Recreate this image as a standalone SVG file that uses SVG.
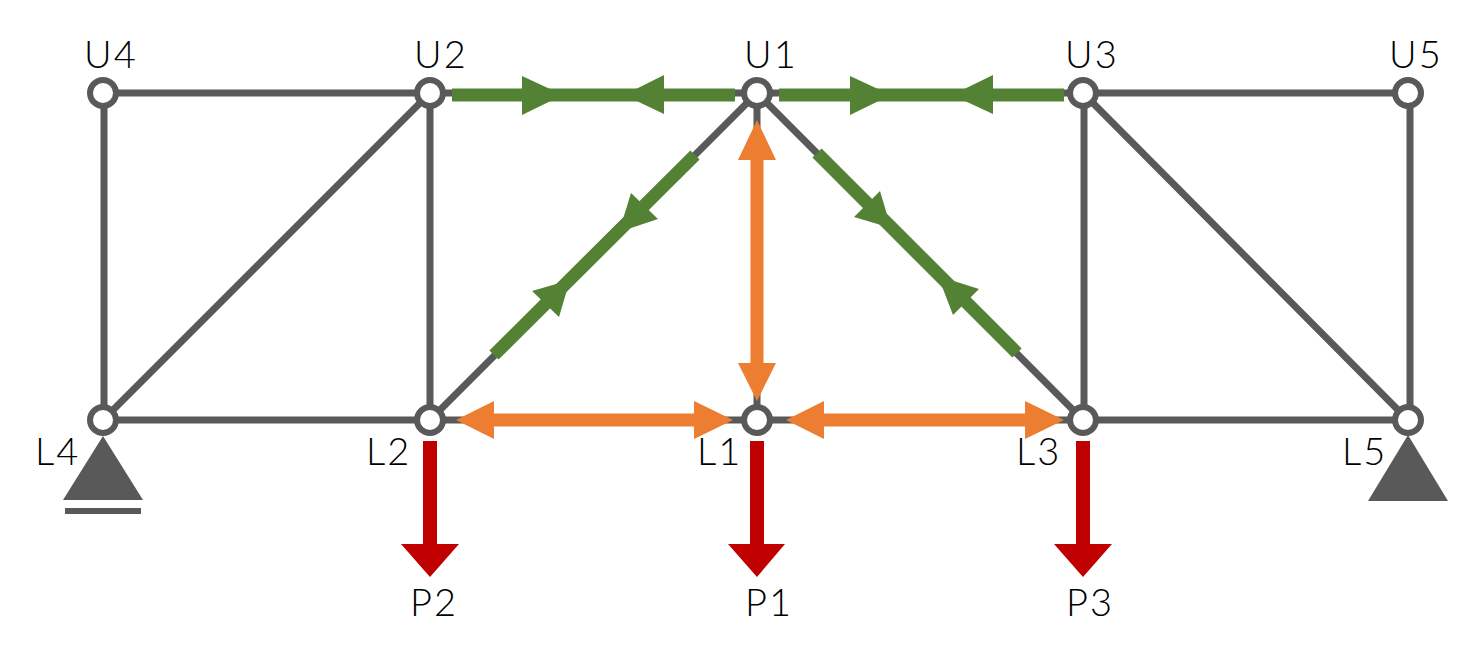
<svg xmlns="http://www.w3.org/2000/svg" width="1472" height="655" viewBox="0 0 1472 655">
<style>
.m{stroke:#595959;stroke-width:7;fill:none}
.g{stroke:#548235;stroke-width:13;fill:none}
.gh{fill:#548235}
.o{stroke:#ed7d31;stroke-width:13;fill:none}
.oh{fill:#ed7d31}
.r{stroke:#c00000;stroke-width:14;fill:none}
.rh{fill:#c00000}
.n{fill:#fff;stroke:#595959;stroke-width:6}
.s{fill:#595959}
text{font-family:"Lato","Liberation Sans",sans-serif;font-size:38px;font-weight:300;fill:#000;letter-spacing:2px}
</style>
<rect width="1472" height="655" fill="#fff"/>
<g id="connectors">
<g id="members">
<path class="m" d="M103 93H1408M103 420H1408M104 93V420M430 93V420M1084 93V420M1410 93V420M757 93V420M103 420L430 93M430 420L757 93M757 93L1083 420M1083 93L1408 420"/>
</g>
<g id="green-forces">
<path class="g" d="M452 95H735M779 95H1064M695 155L494 355M817 153L1017 353"/>
<path class="gh" d="M522 76L563 95L522 115ZM664 75L624 95L664 114ZM850 76L891 95L850 115ZM993 75L952 95L993 114Z"/>
<path class="gh" d="M631 193L658 219L619 232ZM532 291L559 317L570 280ZM880 191L854 217L891 228ZM979 289L953 315L938 276Z"/>
</g>
<g id="orange-forces">
<path class="o" d="M757 155V368M490 420H700M820 420H1030"/>
<path class="oh" d="M757 120L776 160H738ZM757 401L776 363H738ZM456 420L494 401V439ZM733 420L694 401V439ZM786 420L824 401V439ZM1064 420L1025 401V439Z"/>
</g>
<g id="loads">
<path class="r" d="M430 441V548M757 441V548M1083 441V548"/>
<path class="rh" d="M401 544H459L430 577ZM728 544H785L757 577ZM1054 544H1112L1083 577Z"/>
</g>
</g>
<g id="support-L4"><path class="s" d="M103 436L143 500H63Z"/><rect class="s" x="65" y="508" width="76" height="6"/></g>
<g id="support-L5"><path class="s" d="M1408 435L1448 501H1368Z"/></g>
<g id="U4"><circle class="n" cx="103" cy="93" r="13"/><text x="84" y="68">U4</text></g>
<g id="U2"><circle class="n" cx="430" cy="93" r="13"/><text x="414" y="68">U2</text></g>
<g id="U1"><circle class="n" cx="757" cy="93" r="13"/><text x="744" y="68">U1</text></g>
<g id="U3"><circle class="n" cx="1083" cy="93" r="13"/><text x="1065" y="68">U3</text></g>
<g id="U5"><circle class="n" cx="1408" cy="93" r="13"/><text x="1389" y="68">U5</text></g>
<g id="L4"><circle class="n" cx="103" cy="420" r="13"/><text x="35" y="465">L4</text></g>
<g id="L2"><circle class="n" cx="430" cy="420" r="13"/><text x="366" y="465">L2</text></g>
<g id="L1"><circle class="n" cx="757" cy="420" r="13"/><text x="697" y="465">L1</text></g>
<g id="L3"><circle class="n" cx="1083" cy="420" r="13"/><text x="1016" y="465">L3</text></g>
<g id="L5"><circle class="n" cx="1408" cy="420" r="13"/><text x="1342" y="465">L5</text></g>
<g id="P2"><text x="410" y="616">P2</text></g>
<g id="P1"><text x="745" y="616">P1</text></g>
<g id="P3"><text x="1066" y="616">P3</text></g>
</svg>
